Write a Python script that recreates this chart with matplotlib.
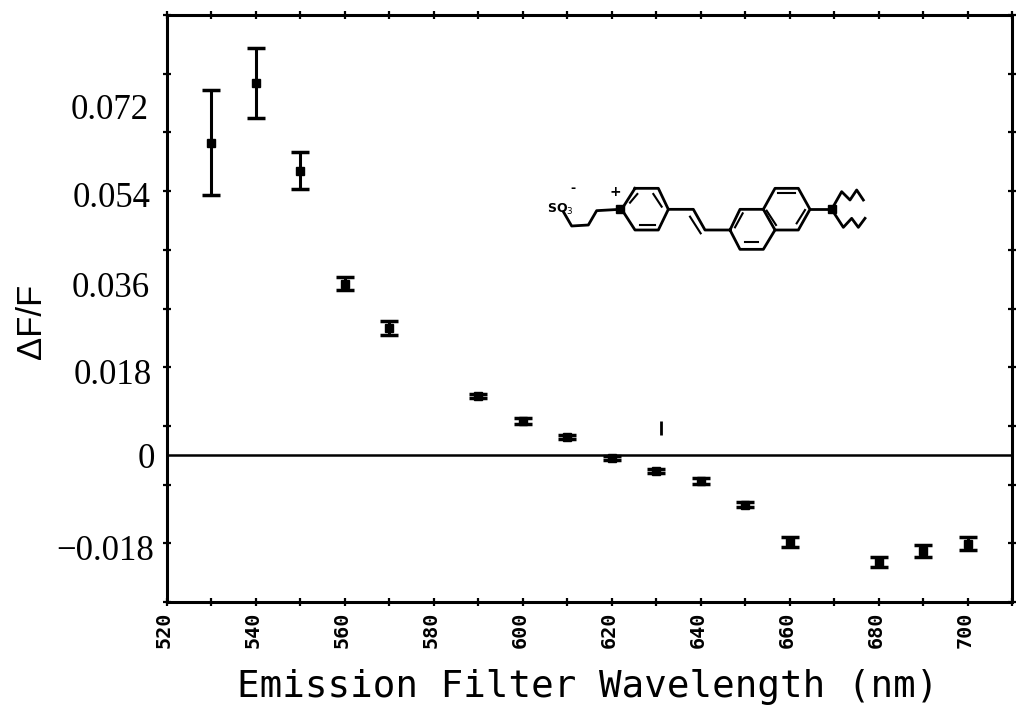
import numpy as np
import matplotlib
matplotlib.use('Agg')
import matplotlib.pyplot as plt
from matplotlib.transforms import ScaledTranslation

# values
wavelength = [530, 540, 550, 560, 570, 590, 600, 610, 620, 630, 640, 650, 660, 680, 690, 700]
dff = [0.0639, 0.0761, 0.0582, 0.0351, 0.0260, 0.0121, 0.0070, 0.0037,
       -0.0006, -0.0033, -0.0053, -0.0101, -0.0177, -0.0218, -0.0196, -0.0181]
dff_err = [0.0107, 0.0071, 0.0037, 0.0014, 0.0015, 0.0004, 0.0006, 0.0004,
           0.0004, 0.0004, 0.0006, 0.0005, 0.0010, 0.0011, 0.0013, 0.0013]

# stray mark above the 630 point
stray_x = [631]
stray_y = [0.0056]
stray_err = [0.0014]

x_ticks = np.arange(520, 711, 10)
x_labels = ['520', '540', '560', '580', '600', '620', '640', '660', '680', '700']
y_ticks = np.arange(-0.03, 0.0901, 0.012)

# pasted-on y labels, they do not sit on the tick marks
y_text = ['0.072', '0.054', '0.036', '0.018', '0', '\u22120.018']
y_text_pos = [0.0704, 0.0524, 0.0341, 0.0164, -0.0009, -0.0196]
y_text_right = [149, 150, 150, 152, 155, 154]

W, H = 1036, 718
fig = plt.figure(figsize=(W / 100, H / 100), dpi=100)
ax = fig.add_axes([167 / W, 1 - 602 / H, 845 / W, 587 / H])

ax.errorbar(wavelength, dff, yerr=dff_err, fmt='s', color='black', ms=5.5,
            elinewidth=2.2, capsize=6.5, capthick=2.5)
ax.errorbar(stray_x, stray_y, yerr=stray_err, fmt='none', color='black', elinewidth=2.0)
ax.axhline(0, color='black', lw=1.8)

ax.set_xlim(520, 710)
ax.set_ylim(-0.03, 0.09)
ax.set_xticks(x_ticks)
ax.set_yticks(y_ticks)
ax.set_yticklabels([])
ax.tick_params(axis='both', which='major', direction='inout', length=6, width=1.6,
               top=True, right=True)
for s in ax.spines.values():
    s.set_linewidth(2.2)

# x tick labels only on every second tick
ax.set_xticklabels([x_labels[i // 2] if i % 2 == 0 else '' for i in range(len(x_ticks))],
                   rotation=90, family='DejaVu Sans Mono', fontweight='bold', fontsize=14.5)
ax.tick_params(axis='x', pad=4)
shift = ScaledTranslation(-2 / 72, 0, fig.dpi_scale_trans)
for lab in ax.get_xticklabels():
    lab.set_transform(lab.get_transform() + shift)

for txt, pos, right in zip(y_text, y_text_pos, y_text_right):
    ax.text((right - 167) / 845, pos, txt, transform=ax.get_yaxis_transform(),
            ha='right', va='center', family='Liberation Serif', fontsize=25)

fig.text(31 / W, 1 - 321 / H, '\u0394F/F', rotation=90, ha='center', va='center',
         family='Liberation Sans', fontsize=25)
fig.text(588 / W, 1 - 687 / H, 'Emission Filter Wavelength (nm)', ha='center', va='center',
         family='DejaVu Sans Mono', fontsize=27)

# ------------------------------------------------------------
# dye structure inset, in coordinates of a 1020x300 box
# ------------------------------------------------------------
mol = fig.add_axes([540 / W, 1 - 270 / H, 340 / W, 100 / H])
mol.set_xlim(0, 1020)
mol.set_ylim(300, 0)
mol.axis('off')

bonds = [
    [(285, 55), (355, 55), (385, 118), (355, 180), (285, 180), (245, 118), (285, 55)],
    [(240, 118), (170, 122), (145, 165), (95, 168), (70, 125)],
    [(385, 118), (460, 118), (495, 180), (570, 180)],
    [(570, 180), (600, 118), (670, 118), (705, 180), (670, 238), (600, 238), (570, 180)],
    [(670, 118), (705, 55), (775, 55), (810, 118), (775, 180), (705, 180)],
    [(810, 118), (875, 118)],
    [(875, 118), (905, 65), (930, 90), (950, 60), (970, 90)],
    [(875, 118), (910, 172), (935, 145), (955, 172), (975, 145)],
]
inner = [
    [(270, 98), (292, 72)], [(340, 72), (365, 110)], [(300, 165), (345, 165)],
    [(450, 140), (482, 190)], [(585, 172), (608, 130)], [(615, 215), (655, 215)],
    [(680, 122), (708, 165)], [(715, 70), (765, 70)], [(770, 160), (795, 120)],
]
for seg in bonds:
    xs, ys = zip(*seg)
    mol.plot(xs, ys, color='black', lw=2.0)
for seg in inner:
    xs, ys = zip(*seg)
    mol.plot(xs, ys, color='black', lw=1.5)
mol.plot([240, 875], [118, 118], ls='none', marker='s', color='black', ms=5.5)
mol.text(60, 118, 'SO$_3$', ha='center', va='center', fontsize=9, fontweight='bold')
mol.text(100, 55, '-', ha='center', va='center', fontsize=9, fontweight='bold')
mol.text(226, 67, '+', ha='center', va='center', fontsize=10, fontweight='bold')

fig.savefig('out.png', dpi=100)
